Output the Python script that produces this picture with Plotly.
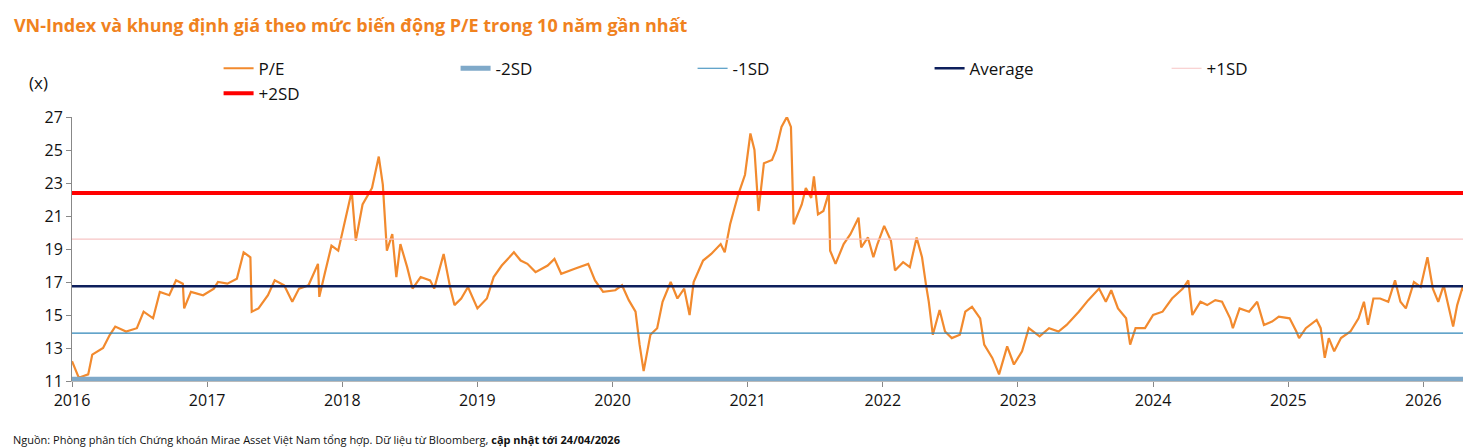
"""VN-Index P/E with valuation bands (mean +/- 1SD, 2SD) over 10 years."""
import plotly.graph_objects as go

# decimal year and P/E
years = [
    2016.00, 2016.05, 2016.12, 2016.15, 2016.23, 2016.28, 2016.32, 2016.40, 2016.48, 2016.53,
    2016.60, 2016.65, 2016.72, 2016.77, 2016.82, 2016.83, 2016.88, 2016.97, 2017.05, 2017.08,
    2017.15, 2017.22, 2017.27, 2017.32, 2017.33, 2017.38, 2017.45, 2017.50, 2017.57, 2017.63,
    2017.68, 2017.75, 2017.82, 2017.83, 2017.87, 2017.92, 2017.97, 2018.02, 2018.07, 2018.10,
    2018.15, 2018.22, 2018.27, 2018.30, 2018.33, 2018.37, 2018.40, 2018.43, 2018.48, 2018.52,
    2018.58, 2018.65, 2018.68, 2018.75, 2018.80, 2018.83, 2018.88, 2018.93, 2019.00, 2019.07,
    2019.12, 2019.18, 2019.27, 2019.32, 2019.37, 2019.43, 2019.52, 2019.57, 2019.62, 2019.72,
    2019.82, 2019.87, 2019.93, 2020.02, 2020.07, 2020.12, 2020.17, 2020.20, 2020.23, 2020.28,
    2020.33, 2020.37, 2020.43, 2020.48, 2020.53, 2020.57, 2020.60, 2020.67, 2020.73, 2020.80,
    2020.83, 2020.87, 2020.93, 2020.98, 2021.02, 2021.05, 2021.08, 2021.12, 2021.18, 2021.21,
    2021.25, 2021.29, 2021.32, 2021.34, 2021.40, 2021.43, 2021.47, 2021.49, 2021.52, 2021.56,
    2021.60, 2021.61, 2021.65, 2021.71, 2021.76, 2021.82, 2021.84, 2021.89, 2021.93, 2021.96,
    2022.01, 2022.06, 2022.09, 2022.15, 2022.20, 2022.25, 2022.29, 2022.32, 2022.34, 2022.37,
    2022.42, 2022.46, 2022.51, 2022.57, 2022.61, 2022.66, 2022.72, 2022.75, 2022.81, 2022.86,
    2022.92, 2022.97, 2023.03, 2023.08, 2023.16, 2023.23, 2023.30, 2023.36, 2023.45, 2023.52,
    2023.60, 2023.65, 2023.69, 2023.74, 2023.80, 2023.83, 2023.87, 2023.94, 2024.00, 2024.07,
    2024.14, 2024.22, 2024.26, 2024.29, 2024.35, 2024.40, 2024.46, 2024.51, 2024.57, 2024.59,
    2024.64, 2024.71, 2024.77, 2024.82, 2024.88, 2024.93, 2025.01, 2025.06, 2025.08, 2025.13,
    2025.21, 2025.24, 2025.27, 2025.30, 2025.34, 2025.39, 2025.46, 2025.52, 2025.56, 2025.59,
    2025.63, 2025.68, 2025.74, 2025.79, 2025.83, 2025.87, 2025.93, 2025.98, 2026.03, 2026.07,
    2026.11, 2026.15, 2026.20, 2026.22, 2026.25, 2026.29, 2026.32,
]
pe = [
    12.2, 11.2, 11.4, 12.6, 13.0, 13.8, 14.3, 14.0, 14.2, 15.2,
    14.8, 16.4, 16.2, 17.1, 16.9, 15.4, 16.4, 16.2, 16.6, 17.0,
    16.9, 17.2, 18.8, 18.5, 15.2, 15.4, 16.2, 17.1, 16.8, 15.8,
    16.6, 16.8, 18.1, 16.1, 17.5, 19.2, 18.9, 20.7, 22.5, 19.5,
    21.7, 22.7, 24.6, 22.9, 18.9, 19.9, 17.3, 19.3, 17.9, 16.6,
    17.3, 17.1, 16.6, 18.7, 16.6, 15.6, 16.0, 16.7, 15.4, 16.0,
    17.3, 18.0, 18.8, 18.3, 18.1, 17.6, 18.0, 18.4, 17.5, 17.8,
    18.1, 17.1, 16.4, 16.5, 16.8, 15.9, 15.2, 13.2, 11.6, 13.8,
    14.2, 15.8, 17.0, 16.0, 16.6, 15.0, 17.0, 18.3, 18.7, 19.3,
    18.8, 20.5, 22.3, 23.5, 26.0, 25.0, 21.3, 24.2, 24.4, 25.0,
    26.4, 27.0, 26.4, 20.5, 21.7, 22.7, 22.1, 23.4, 21.1, 21.3,
    22.4, 18.9, 18.1, 19.3, 19.9, 20.9, 19.1, 19.7, 18.5, 19.3,
    20.4, 19.5, 17.7, 18.2, 17.9, 19.7, 18.5, 16.8, 15.8, 13.8,
    15.3, 14.0, 13.6, 13.8, 15.2, 15.5, 14.8, 13.2, 12.4, 11.4,
    13.1, 12.0, 12.8, 14.2, 13.7, 14.2, 14.0, 14.4, 15.2, 15.9,
    16.6, 15.8, 16.5, 15.4, 14.8, 13.2, 14.2, 14.2, 15.0, 15.2,
    16.0, 16.6, 17.1, 15.0, 15.8, 15.6, 15.9, 15.8, 14.8, 14.2,
    15.4, 15.2, 15.8, 14.4, 14.6, 14.9, 14.8, 14.0, 13.6, 14.2,
    14.7, 14.2, 12.4, 13.6, 12.8, 13.6, 14.0, 14.8, 15.8, 14.4,
    16.0, 16.0, 15.8, 17.1, 15.8, 15.4, 17.0, 16.7, 18.5, 16.6,
    15.8, 16.8, 15.0, 14.3, 15.6, 16.7, 16.0,
]

band_names = ["-2SD", "-1SD", "Average", "+1SD", "+2SD"]
band_values = [11.1, 13.9, 16.75, 19.6, 22.4]
band_colors = ["#7FA9C9", "#2F86B8", "#0D1F5C", "#F7C5C5", "#FF0000"]
band_widths = [5, 1.2, 2.5, 1.2, 4]

x_start, x_end = 2016.0, 2026.32
tick_years = list(range(2016, 2027))

fig = go.Figure()
fig.add_trace(go.Scatter(x=years, y=pe, mode="lines", name="P/E",
                         line=dict(color="#F28A2E", width=2.2)))
for name, val, col, w in zip(band_names, band_values, band_colors, band_widths):
    fig.add_trace(go.Scatter(x=[x_start, x_end], y=[val, val], mode="lines",
                             name=name, line=dict(color=col, width=w)))

fig.update_layout(
    width=1471, height=448,
    margin=dict(l=64, r=11, t=109, b=75),
    plot_bgcolor="white", paper_bgcolor="white",
    font=dict(family="Open Sans", size=16, color="#111"),
    title=dict(text="<b>VN-Index và khung định giá theo mức biến động P/E trong 10 năm gần nhất</b>",
               x=0.004, xanchor="left", y=0.975, yanchor="top",
               font=dict(size=18, color="#F0821E")),
    legend=dict(orientation="h", x=0.105, xanchor="left", y=1.02, yanchor="bottom",
                entrywidth=192, entrywidthmode="pixels",
                font=dict(size=17), bgcolor="rgba(0,0,0,0)"),
    showlegend=True,
)
fig.update_xaxes(range=[x_start, x_end + 0.01], tickvals=tick_years,
                 ticktext=[str(y) for y in tick_years], showgrid=False,
                 ticks="outside", ticklen=5, tickcolor="#888",
                 showline=True, linecolor="#BBB", zeroline=False)
fig.update_yaxes(range=[11, 27], tickvals=list(range(11, 28, 2)), showgrid=False,
                 ticks="outside", ticklen=5, tickcolor="#888",
                 showline=True, linecolor="#888", zeroline=False)

fig.add_annotation(text="(x)", xref="paper", yref="paper", x=-0.024, y=1.08,
                   xanchor="center", yanchor="bottom", showarrow=False,
                   font=dict(size=17))
fig.add_annotation(text="Nguồn: Phòng phân tích Chứng khoán Mirae Asset Việt Nam tổng hợp. Dữ liệu từ Bloomberg, <b>cập nhật tới 24/04/2026</b>",
                   xref="paper", yref="paper", x=-0.044, y=-0.223, xanchor="left", yanchor="middle",
                   showarrow=False, font=dict(size=11))

fig.write_html("out.html")
